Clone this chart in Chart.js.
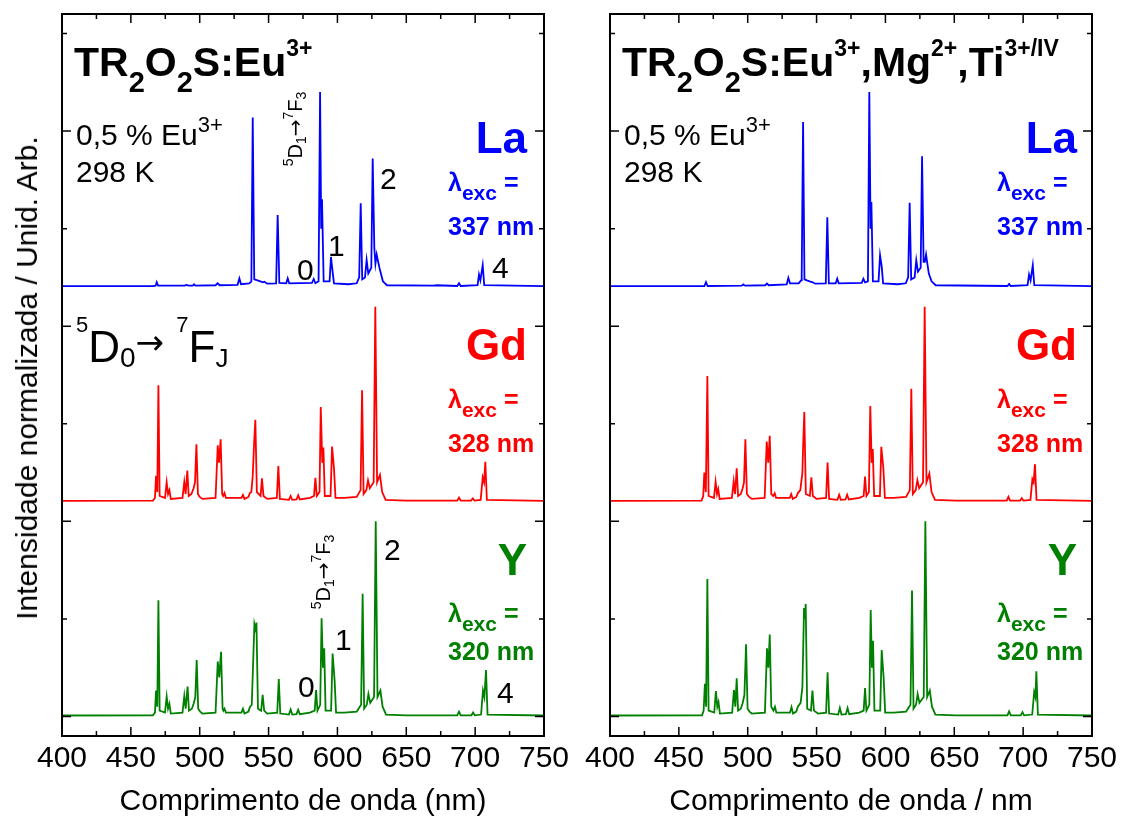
<!DOCTYPE html>
<html>
<head>
<meta charset="utf-8">
<script src="https://cdn.jsdelivr.net/npm/chart.js@4.4.1/dist/chart.umd.min.js"></script>
<style>
html, body { margin: 0; padding: 0; background: #fff; }
#wrap { position: relative; width: 1128px; height: 829px; font-family: "Liberation Sans", Arial, sans-serif; color: #000; }
#wrap canvas { position: absolute; left: 0; top: 0; }
.t { position: absolute; white-space: nowrap; line-height: 1; }
.b { font-weight: bold; }
.s { position: relative; }
.ar { font-family: "DejaVu Sans", sans-serif; }
.rot { transform: translate(-50%, -50%) rotate(-90deg); }
.blue { color: #0000ff; } .red { color: #ff0000; } .green { color: #008000; }
</style>
</head>
<body>
<div id="wrap">
  <canvas id="left" width="1128" height="829"></canvas>
  <canvas id="right" width="1128" height="829"></canvas>

  <div class="t rot" style="left:27px;top:378px;font-size:30px">Intensidade normalizada / Unid. Arb.</div>

  <!-- left panel -->
  <div class="t b" style="left:74px;top:42px;font-size:41px">TR<span class="s" style="font-size:29px;top:16px">2</span>O<span class="s" style="font-size:29px;top:16px">2</span>S:Eu<span class="s" style="font-size:23px;top:-20px">3+</span></div>
  <div class="t" style="left:76px;top:120px;font-size:30px">0,5 % Eu<span class="s" style="font-size:22px;top:-13px">3+</span></div>
  <div class="t" style="left:76px;top:157px;font-size:30px">298 K</div>
  <div class="t b blue" style="right:601px;top:116px;font-size:44px">La</div>
  <div class="t b blue" style="left:448px;top:170px;font-size:25px">&lambda;<span class="s" style="font-size:21px;top:9px">exc</span> =</div>
  <div class="t b blue" style="left:448px;top:214px;font-size:25px">337 nm</div>
  <div class="t b red" style="right:601px;top:323px;font-size:44px">Gd</div>
  <div class="t b red" style="left:448px;top:387px;font-size:25px">&lambda;<span class="s" style="font-size:21px;top:9px">exc</span> =</div>
  <div class="t b red" style="left:448px;top:431px;font-size:25px">328 nm</div>
  <div class="t b green" style="right:601px;top:538px;font-size:44px">Y</div>
  <div class="t b green" style="left:448px;top:601px;font-size:25px">&lambda;<span class="s" style="font-size:21px;top:9px">exc</span> =</div>
  <div class="t b green" style="left:448px;top:639px;font-size:25px">320 nm</div>

  <div class="t" style="left:76px;top:325px;font-size:44px"><span class="s" style="font-size:22px;top:-30px">5</span>D<span class="s" style="font-size:28px;top:5px">0</span><span class="s ar" style="font-size:34px;top:-8px">&rarr;</span> <span class="s" style="font-size:22px;top:-30px">7</span>F<span class="s" style="font-size:26px;top:5px">J</span></div>

  <div class="t rot" style="left:295px;top:129px;font-size:20px"><span class="s" style="font-size:14px;top:-9px">5</span>D<span class="s" style="font-size:14px;top:4px">1</span><span class="ar">&rarr;</span><span class="s" style="font-size:14px;top:-9px">7</span>F<span class="s" style="font-size:14px;top:4px">3</span></div>
  <div class="t rot" style="left:323px;top:572px;font-size:20px"><span class="s" style="font-size:14px;top:-9px">5</span>D<span class="s" style="font-size:14px;top:4px">1</span><span class="ar">&rarr;</span><span class="s" style="font-size:14px;top:-9px">7</span>F<span class="s" style="font-size:14px;top:4px">3</span></div>

  <div class="t" style="left:297px;top:255px;font-size:30px">0</div>
  <div class="t" style="left:328px;top:231px;font-size:30px">1</div>
  <div class="t" style="left:380px;top:164px;font-size:30px">2</div>
  <div class="t" style="left:492px;top:253px;font-size:30px">4</div>
  <div class="t" style="left:298px;top:672px;font-size:30px">0</div>
  <div class="t" style="left:335px;top:625px;font-size:30px">1</div>
  <div class="t" style="left:384px;top:535px;font-size:30px">2</div>
  <div class="t" style="left:497px;top:678px;font-size:30px">4</div>

  <!-- right panel -->
  <div class="t b" style="left:622px;top:42px;font-size:41px">TR<span class="s" style="font-size:29px;top:16px">2</span>O<span class="s" style="font-size:29px;top:16px">2</span>S:Eu<span class="s" style="font-size:23px;top:-20px">3+</span>,Mg<span class="s" style="font-size:23px;top:-20px">2+</span>,Ti<span class="s" style="font-size:23px;top:-20px">3+/IV</span></div>
  <div class="t" style="left:624px;top:120px;font-size:30px">0,5 % Eu<span class="s" style="font-size:22px;top:-13px">3+</span></div>
  <div class="t" style="left:624px;top:157px;font-size:30px">298 K</div>
  <div class="t b blue" style="right:51px;top:116px;font-size:44px">La</div>
  <div class="t b blue" style="left:997px;top:170px;font-size:25px">&lambda;<span class="s" style="font-size:21px;top:9px">exc</span> =</div>
  <div class="t b blue" style="left:997px;top:214px;font-size:25px">337 nm</div>
  <div class="t b red" style="right:51px;top:323px;font-size:44px">Gd</div>
  <div class="t b red" style="left:997px;top:387px;font-size:25px">&lambda;<span class="s" style="font-size:21px;top:9px">exc</span> =</div>
  <div class="t b red" style="left:997px;top:431px;font-size:25px">328 nm</div>
  <div class="t b green" style="right:51px;top:538px;font-size:44px">Y</div>
  <div class="t b green" style="left:997px;top:601px;font-size:25px">&lambda;<span class="s" style="font-size:21px;top:9px">exc</span> =</div>
  <div class="t b green" style="left:997px;top:639px;font-size:25px">320 nm</div>
</div>

<script>
// wavelength (nm) / normalized intensity
var laEu = [[400,0.005],[466,0.005],[468,0.008],[468.8,0.026],[469.8,0.008],[489,0.008],[490.5,0.012],[492,0.008],[495,0.008],[495.9,0.015],[497,0.008],[511.5,0.01],[513,0.02],[514.5,0.01],[527.5,0.012],[528.8,0.045],[530,0.015],[536,0.02],[537.5,0.03],[538.5,0.87],[539.6,0.04],[542,0.035],[544,0.03],[546,0.025],[547,0.028],[549,0.018],[555.5,0.02],[556.6,0.37],[557.8,0.022],[562.8,0.02],[563.9,0.045],[565,0.02],[581.5,0.022],[582.8,0.042],[584,0.02],[586.3,0.03],[587.4,1.0],[588.2,0.3],[588.8,0.45],[590,0.03],[594.3,0.03],[595.3,0.155],[596.5,0.08],[597.5,0.02],[608,0.015],[614,0.02],[615.8,0.05],[616.9,0.43],[618,0.04],[620,0.05],[621.2,0.14],[622.4,0.07],[624.6,0.1],[625.6,0.66],[626.8,0.2],[627.6,0.12],[628.5,0.167],[630.5,0.1],[633,0.03],[636,0.01],[670,0.008],[672,0.01],[687,0.006],[688.3,0.02],[689.5,0.006],[701.8,0.01],[702.8,0.065],[703.8,0.035],[705.5,0.113],[706.6,0.01],[750,0.005]];
var gdEu = [[400,0.005],[466,0.006],[467.5,0.02],[468.3,0.133],[469.2,0.05],[470,0.597],[470.9,0.03],[474.8,0.02],[476,0.1],[477,0.04],[478,0.06],[479,0.015],[487.5,0.02],[488.8,0.102],[489.8,0.04],[491,0.16],[492,0.03],[494,0.04],[495.5,0.068],[496.6,0.1],[497.6,0.295],[498.7,0.04],[500,0.025],[502,0.015],[511.5,0.02],[513.1,0.29],[514,0.2],[515.2,0.32],[516.3,0.04],[517,0.03],[518,0.045],[519,0.02],[530.3,0.02],[531.4,0.035],[532.5,0.015],[535.4,0.025],[536.4,0.045],[537.5,0.05],[538.5,0.133],[539.5,0.3],[540.4,0.42],[541.5,0.05],[544.2,0.03],[545.2,0.121],[546.3,0.03],[549,0.015],[556,0.02],[557.1,0.184],[558.2,0.015],[564.8,0.01],[566,0.03],[567.2,0.01],[570.3,0.012],[571.5,0.034],[572.7,0.012],[580,0.02],[583,0.03],[584,0.123],[585,0.03],[587,0.05],[587.9,0.486],[589,0.2],[589.8,0.278],[590.8,0.03],[595,0.03],[596.1,0.283],[597.5,0.17],[598.6,0.02],[605,0.02],[614,0.025],[616.8,0.06],[617.9,0.572],[619,0.04],[621,0.06],[622.2,0.11],[623.5,0.07],[626.3,0.1],[627.5,1.0],[628.8,0.1],[630.9,0.138],[632.5,0.05],[635,0.01],[650,0.006],[687,0.006],[688.3,0.022],[689.5,0.006],[697,0.006],[698.3,0.017],[699.5,0.006],[704,0.01],[705.5,0.125],[706.5,0.1],[707.4,0.205],[708.5,0.01],[750,0.005]];
var yEu = [[400,0.005],[466,0.006],[467.5,0.02],[468.3,0.133],[469.2,0.05],[470,0.595],[470.9,0.03],[474.8,0.02],[476,0.102],[477,0.04],[478,0.065],[479,0.015],[487.5,0.02],[488.8,0.105],[489.8,0.04],[491.2,0.153],[492.2,0.03],[494.3,0.04],[495.7,0.068],[496.8,0.1],[497.8,0.289],[498.9,0.04],[500.3,0.025],[502,0.015],[511.5,0.02],[513.1,0.282],[514.2,0.2],[515.5,0.332],[516.6,0.04],[517.2,0.03],[518,0.04],[519,0.02],[530.3,0.02],[531.4,0.04],[532.5,0.015],[535.4,0.025],[536.4,0.048],[537.8,0.06],[539.7,0.473],[540.4,0.45],[541.2,0.481],[542.3,0.04],[544.6,0.03],[545.7,0.111],[546.8,0.03],[549,0.015],[556.3,0.02],[557.4,0.192],[558.5,0.015],[564.8,0.01],[566,0.036],[567.2,0.01],[570.3,0.012],[571.5,0.034],[572.7,0.012],[580,0.02],[583.5,0.03],[584.5,0.136],[585.5,0.03],[587.5,0.06],[588.5,0.503],[589.5,0.25],[590.4,0.35],[591.4,0.03],[595.4,0.03],[596.5,0.323],[598,0.18],[599,0.02],[605,0.02],[614,0.025],[617.2,0.06],[618.3,0.629],[619.4,0.04],[621.3,0.06],[622.5,0.116],[623.8,0.07],[626.6,0.1],[627.8,1.0],[629.1,0.1],[631.2,0.133],[632.8,0.05],[635.3,0.01],[650,0.006],[687,0.006],[688.3,0.025],[689.5,0.006],[697.3,0.006],[698.5,0.02],[699.7,0.006],[704.3,0.01],[705.7,0.133],[706.7,0.1],[707.9,0.238],[709,0.01],[750,0.005]];

var laMgTi = [[400,0.005],[468.5,0.006],[469.7,0.026],[470.9,0.006],[495.6,0.008],[496.8,0.014],[498,0.008],[512.8,0.01],[514,0.019],[515.2,0.01],[528.3,0.014],[529.5,0.048],[530.7,0.02],[537,0.02],[538.7,0.035],[539.2,0.06],[540.2,0.846],[541.2,0.04],[543,0.035],[545,0.03],[547.2,0.025],[549,0.018],[556.7,0.02],[557.8,0.358],[558.9,0.02],[563.9,0.02],[565,0.044],[566.1,0.02],[582.8,0.022],[584,0.043],[585.2,0.025],[587.3,0.03],[588.3,1.0],[589.2,0.3],[589.8,0.437],[590.9,0.03],[595,0.03],[596.1,0.164],[597.3,0.107],[598.3,0.02],[609,0.015],[614.8,0.02],[616.5,0.05],[617.6,0.432],[618.7,0.04],[621.2,0.05],[622.4,0.138],[623.6,0.08],[625.6,0.1],[626.6,0.671],[627.7,0.13],[628.6,0.13],[629.5,0.167],[631.5,0.07],[633.5,0.03],[636.5,0.01],[688.6,0.006],[689.8,0.017],[691,0.006],[703.2,0.01],[704.3,0.065],[705.4,0.035],[707,0.113],[708.1,0.01],[750,0.005]];
var gdMgTi = [[400,0.005],[466.5,0.006],[467.7,0.03],[468.5,0.15],[469.6,0.05],[470.7,0.645],[471.6,0.03],[475.5,0.02],[476.7,0.102],[477.7,0.04],[478.6,0.065],[479.6,0.015],[488.5,0.02],[489.8,0.104],[490.8,0.04],[492,0.172],[493,0.03],[495,0.04],[496.3,0.068],[497.3,0.1],[498.3,0.32],[499.4,0.04],[501,0.025],[503,0.015],[512.3,0.02],[513.8,0.309],[514.9,0.2],[516,0.338],[517.1,0.04],[518.5,0.03],[519.6,0.044],[520.6,0.02],[530.5,0.02],[531.6,0.039],[532.7,0.015],[535.3,0.025],[536.4,0.045],[538.2,0.06],[539.7,0.15],[540.3,0.3],[541.1,0.46],[542.2,0.04],[545.1,0.03],[546.2,0.125],[547.3,0.03],[550,0.015],[556.9,0.02],[558,0.201],[559.1,0.015],[565.2,0.01],[566.4,0.036],[567.6,0.01],[571,0.012],[572.2,0.036],[573.4,0.012],[581,0.02],[584.2,0.03],[585.2,0.13],[586.2,0.03],[588,0.05],[589,0.491],[590,0.2],[590.8,0.27],[591.8,0.03],[596,0.03],[597,0.282],[598.5,0.172],[599.6,0.02],[606,0.02],[615,0.025],[617.7,0.06],[618.8,0.58],[619.9,0.04],[622,0.06],[623.2,0.111],[624.5,0.07],[627.3,0.1],[628.5,1.0],[629.8,0.1],[631.9,0.145],[633.5,0.05],[636,0.01],[651,0.006],[688.1,0.006],[689.3,0.026],[690.5,0.006],[697.8,0.006],[699,0.019],[700.2,0.006],[705.3,0.01],[706.7,0.116],[707.6,0.1],[708.6,0.193],[709.7,0.01],[750,0.005]];
var yMgTi = [[400,0.005],[466.8,0.006],[468,0.03],[468.9,0.167],[469.8,0.05],[470.7,0.705],[471.6,0.03],[475.7,0.02],[476.9,0.13],[477.9,0.05],[478.8,0.073],[479.8,0.015],[488.7,0.02],[490,0.136],[491,0.05],[492,0.196],[493,0.03],[495,0.04],[496.3,0.068],[497.6,0.11],[498.8,0.37],[499.9,0.04],[501.3,0.025],[503,0.015],[512.5,0.02],[514,0.35],[515,0.25],[516,0.42],[517.1,0.05],[518.7,0.03],[519.8,0.05],[520.8,0.02],[530.7,0.02],[531.8,0.048],[532.9,0.015],[535.3,0.025],[536.4,0.05],[538.4,0.07],[539.7,0.15],[540.9,0.556],[541.5,0.5],[542.1,0.577],[543.2,0.04],[545.9,0.03],[547,0.133],[548.1,0.03],[551,0.015],[556.9,0.02],[558,0.226],[559.1,0.015],[565.7,0.01],[566.9,0.044],[568.1,0.01],[571.3,0.012],[572.5,0.044],[573.7,0.012],[581,0.02],[584.2,0.03],[585.2,0.146],[586.2,0.03],[588.3,0.06],[589.3,0.546],[590.2,0.25],[591,0.388],[592,0.03],[596.2,0.03],[597.3,0.34],[598.7,0.2],[599.8,0.02],[606,0.02],[615,0.025],[618.2,0.06],[619.3,0.646],[620.4,0.04],[622.2,0.06],[623.4,0.116],[624.7,0.07],[627.8,0.1],[629,1.0],[630.3,0.1],[632.2,0.133],[633.8,0.05],[636.3,0.01],[651,0.006],[688.6,0.006],[689.8,0.026],[691,0.006],[698.3,0.006],[699.5,0.022],[700.7,0.006],[706.6,0.01],[708,0.125],[708.9,0.1],[709.6,0.232],[710.7,0.01],[750,0.005]];

// stacked offsets of the three spectra on the shared y axis
var offsets = { La: 2.2, Gd: 1.1, Y: 0 };

var xMajor = [400, 450, 500, 550, 600, 650, 700, 750];
var xMinor = [425, 475, 525, 575, 625, 675, 725];
var yMajor = [0, 1, 2, 3];
var yMinor = [0.5, 1.5, 2.5, 3.5];

function toPoints(pairs, off) {
    return pairs.map(function (p) { return {x: p[0], y: p[1] + off}; });
}

function spectrum(pairs, off, color) {
    return {
        data: toPoints(pairs, off),
        borderColor: color,
        borderWidth: 1.8,
        pointRadius: 0,
        tension: 0,
        fill: false
    };
}

var frameTicks = {
    id: 'frameTicks',
    afterDatasetsDraw: function (chart) {
        var ctx = chart.ctx, a = chart.chartArea, x = chart.scales.x, y = chart.scales.y;
        ctx.save();
        ctx.strokeStyle = '#000';
        ctx.lineWidth = 1.5;
        ctx.beginPath();
        xMajor.concat(xMinor).forEach(function (v) {
            var len = xMajor.indexOf(v) >= 0 ? 9 : 5;
            var px = x.getPixelForValue(v);
            ctx.moveTo(px, a.bottom); ctx.lineTo(px, a.bottom - len);
            ctx.moveTo(px, a.top); ctx.lineTo(px, a.top + len);
        });
        yMajor.concat(yMinor).forEach(function (v) {
            var len = yMajor.indexOf(v) >= 0 ? 9 : 5;
            var py = y.getPixelForValue(v);
            ctx.moveTo(a.left, py); ctx.lineTo(a.left + len, py);
            ctx.moveTo(a.right, py); ctx.lineTo(a.right - len, py);
        });
        ctx.stroke();
        ctx.lineWidth = 2;
        ctx.strokeRect(a.left, a.top, a.right - a.left, a.bottom - a.top);
        ctx.restore();
    }
};

function makeChart(id, sets, title, padLeft, padRight) {
    return new Chart(document.getElementById(id), {
        type: 'line',
        data: {
            datasets: [
                spectrum(sets[0], offsets.La, '#0000ff'),
                spectrum(sets[1], offsets.Gd, '#ff0000'),
                spectrum(sets[2], offsets.Y, '#008000')
            ]
        },
        options: {
            animation: false,
            responsive: false,
            devicePixelRatio: 1,
            layout: { padding: { left: padLeft, right: padRight, top: 14, bottom: 0 } },
            plugins: { legend: { display: false }, tooltip: { enabled: false } },
            scales: {
                x: {
                    type: 'linear',
                    min: 400,
                    max: 750,
                    afterBuildTicks: function (s) { s.ticks = xMajor.map(function (v) { return {value: v}; }); },
                    afterFit: function (s) { s.height = 93; },
                    grid: { display: false, drawTicks: false },
                    border: { display: false },
                    ticks: {
                        color: '#000',
                        padding: 5,
                        maxRotation: 0,
                        autoSkip: false,
                        font: { family: '"Liberation Sans", Arial, sans-serif', size: 30 }
                    },
                    title: {
                        display: true,
                        text: title,
                        color: '#000',
                        padding: { top: 0, bottom: 9 },
                        font: { family: '"Liberation Sans", Arial, sans-serif', size: 30 }
                    }
                },
                y: {
                    type: 'linear',
                    min: -0.1,
                    max: 3.6,
                    display: false
                }
            }
        },
        plugins: [frameTicks]
    });
}

makeChart('left', [laEu, gdEu, yEu], 'Comprimento de onda (nm)', 62, 584);
makeChart('right', [laMgTi, gdMgTi, yMgTi], 'Comprimento de onda / nm', 610, 36);
</script>
</body>
</html>
